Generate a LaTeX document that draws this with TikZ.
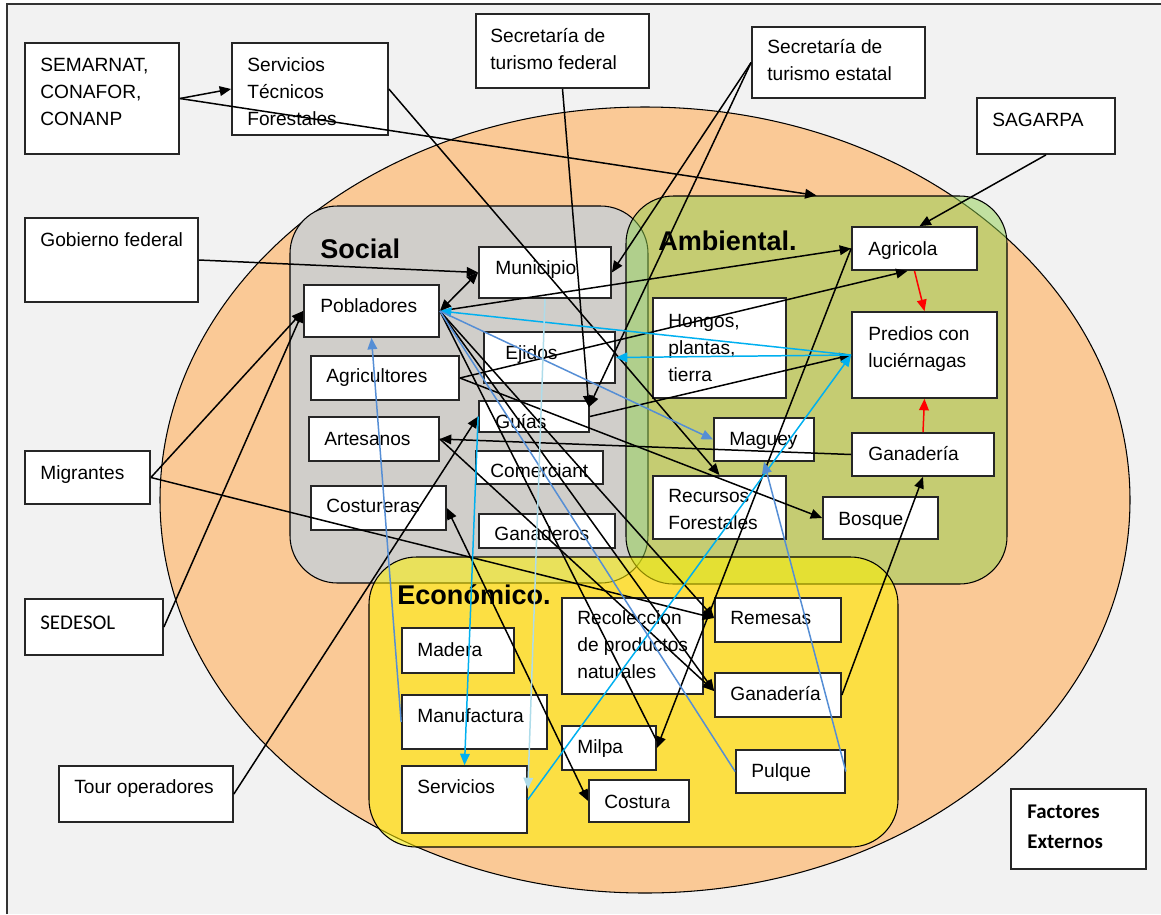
\documentclass[tikz,border=0pt]{standalone}
\usepackage{fontspec}
\setmainfont{Liberation Sans}
\newfontfamily\calib{Carlito}
\usetikzlibrary{arrows.meta,fit,calc}
\definecolor{bgc}{RGB}{242,242,242}
\definecolor{orng}{RGB}{250,201,150}
\definecolor{socc}{RGB}{208,206,202}
\definecolor{ambc}{RGB}{146,208,80}
\definecolor{cyanl}{RGB}{0,176,240}
\definecolor{bluel}{RGB}{85,142,213}
\definecolor{lblue}{RGB}{174,220,234}
\tikzset{
  box/.style={draw=black!85, line width=1pt, fill=white, inner sep=0pt},
  lab/.style={inner sep=0pt, anchor=base west, font=\fontsize{10.9}{15.6}\selectfont},
  region/.style={draw=black, line width=0.6pt, inner sep=0pt, rounded corners=0.95cm},
  tip/.tip={Triangle[length=6.5pt,width=5.5pt]},
  arr/.style={-tip, line width=0.85pt},
  arrtwo/.style={tip-tip, line width=0.85pt},
  plain/.style={line width=0.85pt},
}
\newcommand\bx[5]{\node[box, fit={(#2,#3) (#4,#5)}] (#1) {};}
\newcommand\tx[4]{\node[lab] (#1) at (#2,#3) {\begin{tabular}[t]{@{}l@{}}#4\end{tabular}};}
\begin{document}
\begin{tikzpicture}[x=0.02cm, y=-0.02cm]
\useasboundingbox (0,0) rectangle (1161,914);
\fill[bgc] (7,4) rectangle (1161,914);
\draw[black!80, line width=0.9pt] (7,914) -- (7,4) -- (1161,4);
% external ellipse
\draw[fill=orng, line width=0.6pt] (645,500) ellipse [x radius=485, y radius=393];
% regions
\node[region, fill=socc, fit={(290,206) (648,583)}] (soc) {};
\node[region, fill=ambc, fill opacity=0.5, fit={(626,196) (1007,584)}] (amb) {};
\node[region, fill=yellow, fill opacity=0.55, fit={(369,557) (898,847)}] (eco) {};
\node[inner sep=0, anchor=base west, font=\fontsize{15.4}{18}\selectfont\bfseries] (lsoc) at (320,258) {Social};
\node[inner sep=0, anchor=base west, font=\fontsize{15.4}{18}\selectfont\bfseries] (lamb) at (658,250) {Ambiental.};
\node[inner sep=0, anchor=base west, font=\fontsize{15.4}{18}\selectfont\bfseries] (leco) at (397,604) {Económico.};
% boxes
\bx{sem}{25}{43}{179}{154}      \tx{tsem}{40}{71}{SEMARNAT,\\CONAFOR,\\CONANP}
\bx{stf}{232}{43}{388}{135}     \tx{tstf}{247}{71}{Servicios\\Técnicos\\Forestales}
\bx{stfed}{476}{14}{649}{88}    \tx{tstfed}{490}{42}{Secretaría de\\turismo federal}
\bx{stest}{752}{27}{925}{98}    \tx{tstest}{767}{53}{Secretaría de\\turismo estatal}
\bx{sag}{977}{98}{1115}{154}    \tx{tsag}{992}{126}{SAGARPA}
\bx{gob}{25}{218}{198}{302}     \tx{tgob}{40}{246}{Gobierno federal}
\bx{pob}{304}{285}{439}{337}    \tx{tpob}{320}{312}{Pobladores}
\bx{mun}{479}{247}{611}{298}    \tx{tmun}{495}{274}{Municipio}
\bx{agr}{852}{227}{977}{270}    \tx{tagr}{868}{255}{Agricola}
\bx{ejid}{484}{332}{615}{383}   \tx{tejid}{505}{359}{Ejidos}
\bx{agri}{311}{356}{459}{400}   \tx{tagri}{326}{382}{Agricultores}
\bx{guias}{479}{401}{589}{432}  \tx{tguias}{495}{428}{Guías}
\bx{hon}{653}{298}{786}{398}    \tx{thon}{668}{327}{Hongos,\\plantas,\\tierra}
\bx{pred}{852}{312}{997}{398}   \tx{tpred}{868}{340}{Predios con\\luciérnagas}
\bx{art}{309}{417}{439}{461}    \tx{tart}{324}{445}{Artesanos}
\bx{mag}{714}{418}{814}{461}    \tx{tmag}{729}{445}{Maguey}
\bx{ganA}{852}{433}{994}{476}   \tx{tganA}{868}{460}{Ganadería}
\bx{com}{476}{451}{603}{484}    \tx{tcom}{490}{477}{Comerciant}
\bx{rf}{653}{476}{786}{539}     \tx{trf}{668}{502}{Recursos\\Forestales}
\bx{cos}{311}{486}{446}{530}    \tx{tcos}{326}{512}{Costureras}
\bx{gand}{479}{514}{615}{548}   \tx{tgand}{494}{540}{Ganaderos}
\bx{bos}{823}{497}{938}{539}    \tx{tbos}{838}{525}{Bosque}
\bx{mig}{25}{451}{150}{504}     \tx{tmig}{40}{479}{Migrantes}
\bx{sed}{25}{599}{163}{655}     \node[inner sep=0, anchor=base west, font=\calib\fontsize{11.9}{17.6}\selectfont] (tsed) at (40,629) {SEDESOL};
\bx{tour}{59}{766}{233}{822}    \tx{ttour}{74}{793}{Tour operadores}
\bx{mad}{402}{628}{514}{673}    \tx{tmad}{417}{656}{Madera}
\bx{rec}{562}{598}{703}{694}    \tx{trec}{577}{624}{Recoleccion\\de productos\\naturales}
\bx{rem}{715}{598}{841}{642}    \tx{trem}{730}{624}{Remesas}
\bx{man}{402}{695}{547}{749}    \tx{tman}{417}{722}{Manufactura}
\bx{ganE}{715}{673}{841}{717}   \tx{tganE}{730}{700}{Ganadería}
\bx{milpa}{562}{726}{656}{770}  \tx{tmilpa}{577}{753}{Milpa}
\bx{serv}{402}{766}{527}{833}   \tx{tserv}{417}{793}{Servicios}
\bx{costura}{589}{780}{689}{822} \tx{tcostura}{604}{808}{Costur{\fontsize{9.5}{11}\selectfont a}}
\bx{pul}{736}{750}{845}{793}    \tx{tpul}{751}{777}{Pulque}
\bx{fact}{1011}{789}{1146}{869}
\node[inner sep=0, anchor=base west, font=\calib\bfseries\fontsize{11.9}{17.6}\selectfont] (tfact) at (1027,818) {\begin{tabular}[t]{@{}l@{}}Factores\\Externos\end{tabular}};
% black connectors
\draw[arr] (sem.east) -- (stf.west);
\draw[arr] (sem.east) -- (amb.north);
\draw[arr] (stf.east) -- (rf.north);
\draw[arr] (stfed.south) -- ([shift={(-1,7)}]guias.north east);
\draw[arr] (stest.west) -- (mun.east);
\draw[arr] (stest.west) -- ([shift={(-1,7)}]guias.north east);
\draw[arr] (sag.south) -- ([shift={(5,0)}]agr.north);
\draw[arr] (gob.east) -- (mun.west);
\draw[arrtwo] (pob.east) -- (mun.west);
\draw[arr] (pob.east) -- (agr.west);
\draw[arr] (agri.east) -- ([shift={(-7,0)}]agr.south);
\draw[arr] (agri.east) -- (bos.west);
\draw[arr] (ganA.west) -- (art.east);
\draw[arr] (art.east) -- ([shift={(0,-4)}]ganE.west);
\draw[arr] (mig.east) -- (pob.west);
\draw[arr] (sed.east) -- (pob.west);
\draw[arr] (mig.east) -- ([shift={(0,-2)}]rem.west);
\draw[arr] (tour.east) -- (guias.west);
\draw[arrtwo] (cos.east) -- (costura.west);
\draw[arr] (agr.west) -- (milpa.east);
\draw[arr] (ganE.east) -- (ganA.south);
\draw[arr] (guias.east) -- (pred.west);
\draw[arr] (pob.east) -- ([shift={(0,-2)}]rem.west);
\draw[arr] (pob.east) -- ([shift={(0,-4)}]ganE.west);
\draw[plain] (pob.east) -- ([shift={(0,16)}]milpa.north east);
% red
\draw[arr, red] (agr.south) -- (pred.north);
\draw[arr, red] (ganA.north) -- (pred.south);
% cyan
\draw[arr, cyanl] (pred.west) -- (pob.east);
\draw[arr, cyanl] (pred.west) -- (ejid.east);
\draw[arr, cyanl] (serv.east) -- (pred.west);
\draw[arr, cyanl] (guias.west) -- (serv.north);
% blue
\draw[arr, bluel] (pob.east) -- (mag.west);
\draw[arr, bluel] (pul.east) -- (mag.south);
\draw[arr, bluel] (man.west) -- (pob.south);
\draw[plain, bluel] (pob.east) -- (pul.west);
% light blue
\draw[arr, lblue] (mun.south) -- ([shift={(0,24)}]serv.north east);
\end{tikzpicture}
\end{document}
